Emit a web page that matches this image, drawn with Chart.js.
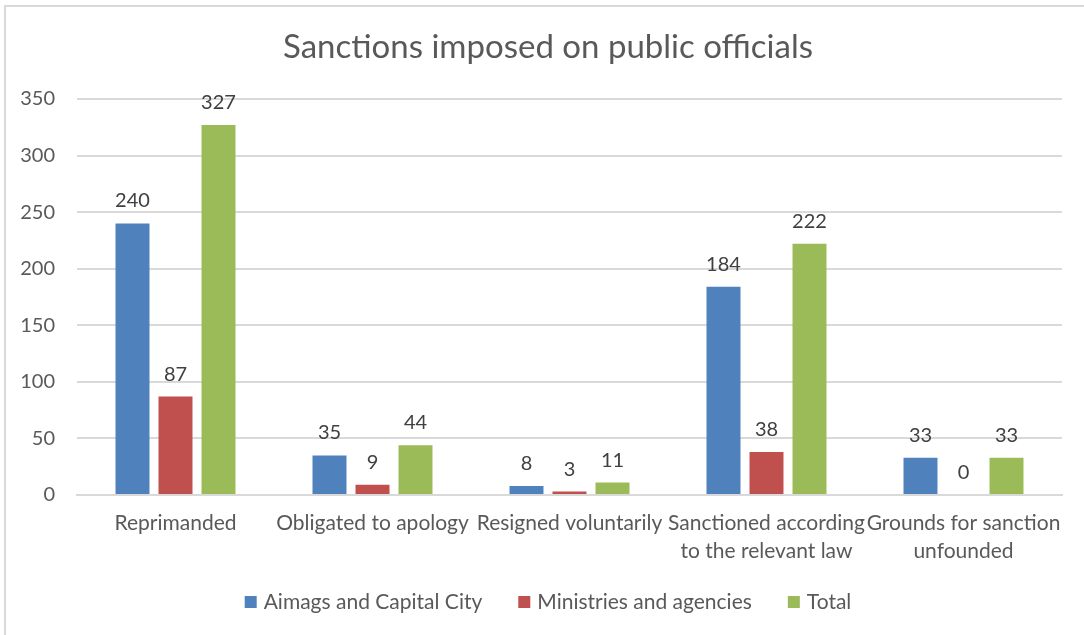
<!DOCTYPE html>
<html>
<head>
<meta charset="utf-8">
<script src="https://cdn.jsdelivr.net/npm/chart.js@4/dist/chart.umd.min.js"></script>
<style>
  html, body { margin: 0; padding: 0; background: #fff; }
  #wrap { position: absolute; left: 0; top: 0; width: 1084px; height: 635px; }
  #frame { position: absolute; left: 4px; top: 5px; width: 1090px; height: 640px;
           border-left: 2px solid #D9D9D9; border-top: 2px solid #D9D9D9; pointer-events: none; }
</style>
</head>
<body>
<div id="wrap"><canvas id="c" width="1084" height="635"></canvas></div>
<div id="frame"></div>
<script>
const categories = [
  "Reprimanded",
  "Obligated to apology",
  "Resigned voluntarily",
  ["Sanctioned according", "to the relevant law"],
  ["Grounds for sanction", "unfounded"]
];
const seriesNames = ["Aimags and Capital City", "Ministries and agencies", "Total"];
const aimags = [240, 35, 8, 184, 33];
const ministries = [87, 9, 3, 38, 0];
const totals = [327, 44, 11, 222, 33];
const yTicks = [0, 50, 100, 150, 200, 250, 300, 350];
const titleText = "Sanctions imposed on public officials";
const colors = ["#4F81BD", "#C0504D", "#9BBB59"];

const FONT = "Lato, 'Open Sans', sans-serif";
const TXT = "#595959";
const FRAME_CENTER = 548;

const valueLabels = {
  id: 'valueLabels',
  afterDatasetsDraw(chart) {
    const ctx = chart.ctx;
    ctx.save();
    ctx.font = "20px " + FONT;
    ctx.fillStyle = "#404040";
    ctx.textAlign = "center";
    ctx.textBaseline = "alphabetic";
    chart.data.datasets.forEach((ds, di) => {
      const meta = chart.getDatasetMeta(di);
      meta.data.forEach((bar, i) => {
        ctx.fillText(String(ds.data[i]), bar.x, bar.y - 16);
      });
    });
    ctx.restore();
  }
};

const titleAndLegend = {
  id: 'titleAndLegend',
  afterDraw(chart) {
    const ctx = chart.ctx;
    ctx.save();
    // title
    ctx.font = "33px " + FONT;
    ctx.fillStyle = TXT;
    ctx.textAlign = "center";
    ctx.textBaseline = "middle";
    ctx.fillText(titleText, FRAME_CENTER, 47);
    // legend
    ctx.font = "21px " + FONT;
    ctx.textAlign = "left";
    const box = 12, gapText = 7, gapItem = 36;
    const items = chart.data.datasets.map(ds => ({ label: ds.label, color: ds.backgroundColor,
      w: box + gapText + ctx.measureText(ds.label).width }));
    const total = items.reduce((a, b) => a + b.w, 0) + gapItem * (items.length - 1);
    let x = FRAME_CENTER - total / 2;
    const y = 602;
    items.forEach(it => {
      ctx.fillStyle = it.color;
      ctx.fillRect(x, y - box / 2, box, box);
      ctx.fillStyle = TXT;
      ctx.fillText(it.label, x + box + gapText, y);
      x += it.w + gapItem;
    });
    ctx.restore();
  }
};

new Chart(document.getElementById('c'), {
  type: 'bar',
  data: {
    labels: categories,
    datasets: seriesNames.map((n, i) => ({
      label: n,
      data: [aimags, ministries, totals][i],
      backgroundColor: colors[i]
    }))
  },
  options: {
    responsive: false,
    animation: false,
    devicePixelRatio: 1,
    layout: { padding: { left: 0, right: 22, top: 99, bottom: 70 } },
    datasets: { bar: { categoryPercentage: 0.655, barPercentage: 0.79 } },
    plugins: {
      title: { display: false },
      legend: { display: false },
      tooltip: { enabled: false }
    },
    scales: {
      x: {
        grid: { display: false, drawTicks: false },
        border: { color: "#D9D9D9", width: 2 },
        ticks: {
          color: TXT, autoSkip: false, maxRotation: 0, minRotation: 0,
          font: { family: FONT, size: 21, lineHeight: 1.35 },
          padding: 14
        },
        afterFit(s) { s.height = 70; }
      },
      y: {
        min: 0, max: 350,
        grid: { color: "#D9D9D9", lineWidth: 2, drawTicks: false },
        border: { display: false },
        afterBuildTicks(s) { s.ticks = yTicks.map(v => ({ value: v })); },
        ticks: {
          color: TXT, font: { family: FONT, size: 20 }, padding: 22
        },
        afterFit(s) { s.width = 77; }
      }
    }
  },
  plugins: [valueLabels, titleAndLegend]
});
</script>
</body>
</html>
